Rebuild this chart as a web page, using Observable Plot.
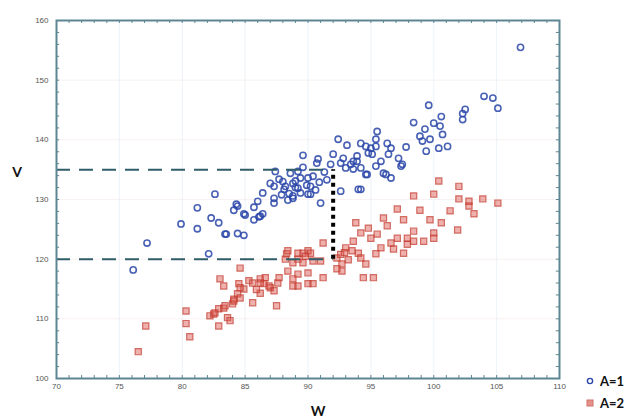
<!DOCTYPE html>
<html>
<head>
<meta charset="utf-8">
<script src="https://cdn.jsdelivr.net/npm/d3@7"></script>
<script src="https://cdn.jsdelivr.net/npm/@observablehq/plot@0.6"></script>
<style>
  html, body { margin: 0; padding: 0; background: #fff; }
  #chart { position: relative; width: 630px; height: 419px; }
</style>
</head>
<body>
<div id="chart"></div>
<script>
// Group A=1 (blue circles)
const blueW = [76.1,77.2,79.9,81.2,81.2,82.3,82.9,82.1,82.6,83.4,83.5,84.1,84.3,84.9,85.0,85.7,85.7,86.1,84.4,84.9,86.2,86.0,86.4,87.3,88.4,88.8,89.4,90.0,89.2,88.1,87.3,87.0,87.7,89.0,90.0,90.4,88.6,89.2,89.6,90.8,90.7,91.8,92.6,93.0,93.6,92.0,92.4,93.1,91.0,92.6,94.0,87.4,88.2,88.8,89.4,90.2,88.8,90.2,87.3,86.4,94.2,94.7,96.2,96.6,93.4,93.9,92.8,94.6,94.8,94.2,93.9,95.0,95.4,95.5,95.4,96.3,96.6,96.4,97.2,97.5,95.8,95.1,93.6,94.2,95.4,96.0,94.6,97.4,97.8,98.4,99.6,100.0,100.6,100.5,99.3,98.9,99.7,100.7,99.1,101.1,100.4,99.4,102.3,102.3,102.5,104.0,104.7,105.1,106.9,84.4,89.0,89.9,90.6,88.0,91.3,89.6,90.9,88.5,91.5,87.9];
const blueV = [118.2,122.7,125.9,128.6,125.1,126.9,126.1,120.9,130.9,124.2,124.2,128.2,129.2,124.0,127.4,128.7,126.6,127.1,128.9,127.6,127.2,129.7,131.1,130.2,129.9,130.2,131.1,130.9,131.9,131.7,132.2,132.7,133.4,133.1,133.6,133.9,134.4,134.7,137.4,136.8,136.1,135.9,136.1,135.3,135.1,137.6,140.1,139.1,129.4,131.4,131.7,134.7,132.2,132.7,133.6,132.2,130.6,130.9,129.4,127.6,131.7,134.2,134.2,133.6,135.9,136.4,136.9,138.9,137.8,139.4,137.3,138.6,138.9,141.4,140.1,139.4,138.6,137.6,136.9,135.9,136.4,137.6,136.4,135.3,135.6,134.4,134.2,135.6,138.8,142.9,145.8,142.8,143.9,142.3,141.8,140.6,140.1,140.9,139.8,138.9,138.6,138.1,144.4,143.4,145.1,147.3,147.0,145.3,155.5,124.3,132.0,132.4,131.6,133.0,134.6,135.4,132.9,131.0,133.3,130.8];

// Group A=2 (red squares)
const redW = [76.5,77.1,80.3,80.3,80.6,82.2,82.5,82.9,82.9,83.3,83.4,83.6,83.8,84.0,84.1,84.4,84.6,84.9,83.0,83.3,84.5,84.6,84.6,85.6,85.6,86.2,86.2,86.5,87.0,87.6,87.3,87.5,86.6,86.9,87.7,88.3,89.2,90.0,88.8,89.2,90.0,88.4,88.2,88.8,89.6,89.2,90.2,89.6,90.4,91.0,88.4,89.2,90.0,90.4,91.2,88.8,91.2,92.3,92.7,92.3,92.7,93.0,93.5,93.6,94.0,94.2,94.6,94.4,95.2,95.4,95.8,96.8,97.6,96.6,97.9,97.1,97.9,98.4,99.2,100.0,100.0,98.4,96.3,95.5,95.0,94.2,94.8,93.8,96.0,97.6,99.7,100.6,101.9,97.1,98.9,101.3,103.2,102.8,102.0,102.8,103.9,105.1,98.4,100.0,100.4,102.0,86.2,84.1,82.6,92.6,93.2,92.9,89.8,85.3,85.9];
const redV = [104.5,108.8,111.3,109.2,107.0,110.5,110.8,108.8,111.7,111.8,112.2,110.2,109.7,112.5,113.3,114.2,113.5,115.0,116.7,115.5,115.9,115.2,118.5,116.0,112.7,114.3,116.7,115.9,115.2,116.0,114.7,112.2,116.9,115.5,116.9,120.9,121.0,121.4,116.7,115.5,115.9,121.4,120.0,119.4,121.0,120.0,121.0,119.4,119.7,119.7,118.0,117.5,117.7,115.9,116.9,115.5,122.7,120.2,119.2,118.4,118.0,121.9,121.4,123.0,121.0,120.2,119.2,116.9,116.9,120.9,121.9,121.7,121.0,122.7,122.5,123.5,123.5,123.0,123.0,123.5,124.4,124.7,125.6,124.2,123.5,124.4,125.2,126.1,126.9,126.6,126.6,126.1,124.9,128.4,128.2,128.1,127.6,128.9,130.1,129.7,130.1,129.4,130.6,130.9,133.1,132.2,116.0,113.0,111.0,120.8,119.9,121.1,120.5,116.4,114.9];

// Axis ticks and reference lines
const xTicks = [70, 75, 80, 85, 90, 95, 100, 105, 110];
const yTicks = [100, 110, 120, 130, 140, 150, 160];
const refV = [135, 120];
const refW = 92;
const groups = ["A=1", "A=2"];

const blue = blueW.map((w, i) => ({W: w, V: blueV[i]}));
const red = redW.map((w, i) => ({W: w, V: redV[i]}));
const minorX = d3.range(70, 110.001, 1);
const minorY = d3.range(100, 160.001, 2);

const axisColor = "#5d8593";

const plot = Plot.plot({
  width: 630,
  height: 419,
  marginLeft: 56,
  marginRight: 71,
  marginTop: 20,
  marginBottom: 41,
  style: {fontFamily: "Liberation Sans, Arial, sans-serif", fontSize: "8px", background: "#fff"},
  x: {domain: [70, 110], label: null},
  y: {domain: [100, 160], label: null},
  marks: [
    Plot.gridX(xTicks, {stroke: "#dfe9f3", strokeOpacity: 0.6}),
    Plot.gridY(yTicks, {stroke: "#f3e6e6", strokeOpacity: 0.5}),
    Plot.ruleX(minorX, {y1: 100, y2: 100.5, stroke: axisColor, strokeWidth: 1}),
    Plot.ruleX(minorX, {y1: 159.5, y2: 160, stroke: axisColor, strokeWidth: 1}),
    Plot.ruleY(minorY, {x1: 70, x2: 70.25, stroke: axisColor, strokeWidth: 1}),
    Plot.ruleY(minorY, {x1: 109.75, x2: 110, stroke: axisColor, strokeWidth: 1}),
    Plot.dot(red, {x: "W", y: "V", symbol: "square", r: 3.5, fill: "#d9534a", fillOpacity: 0.45, stroke: "#c23a2e", strokeOpacity: 0.7, strokeWidth: 1.2}),
    Plot.dot(blue, {x: "W", y: "V", symbol: "circle", r: 3.1, fill: "none", stroke: "#2a46a8", strokeOpacity: 0.85, strokeWidth: 1.6}),
    Plot.ruleY(refV, {x1: 70, x2: refW, stroke: "#2f5d68", strokeWidth: 2, strokeDasharray: "14,9"}),
    Plot.ruleX([refW], {y1: refV[1], y2: refV[0], stroke: "#000", strokeWidth: 4, strokeDasharray: "4,4"}),
    Plot.frame({stroke: axisColor, strokeWidth: 2}),
    Plot.axisX({ticks: xTicks, tickSize: 0, tickPadding: 5, fill: "#555", fontSize: 8}),
    Plot.axisY({ticks: yTicks, tickSize: 0, tickPadding: 8, fill: "#555", fontSize: 8})
  ]
});

document.getElementById("chart").appendChild(plot);

// Axis titles and legend
const svg = d3.select(plot);
const lab = svg.append("g").attr("font-family", "Lato, 'Open Sans', sans-serif").attr("font-weight", "bold").attr("fill", "#111");
lab.append("text").attr("x", 17).attr("y", 177).attr("text-anchor", "middle").attr("font-size", 14).text("V");
lab.append("text").attr("x", 318).attr("y", 416).attr("text-anchor", "middle").attr("font-size", 14).text("W");

const leg = svg.append("g").attr("text-anchor", "start");
leg.append("circle").attr("cx", 590).attr("cy", 381).attr("r", 2.6).attr("fill", "none").attr("stroke", "#2a46a8").attr("stroke-width", 1.4);
leg.append("rect").attr("x", 587).attr("y", 400).attr("width", 6).attr("height", 6).attr("fill", "#e4928a").attr("stroke", "#d07068");
leg.append("text").attr("x", 600).attr("y", 386).attr("text-anchor", "start").attr("font-family", "Lato, sans-serif").attr("font-weight", "bold").attr("font-size", 13).attr("fill", "#111").text(groups[0]);
leg.append("text").attr("x", 600).attr("y", 408).attr("text-anchor", "start").attr("font-family", "Lato, sans-serif").attr("font-weight", "bold").attr("font-size", 13).attr("fill", "#111").text(groups[1]);
</script>
</body>
</html>
